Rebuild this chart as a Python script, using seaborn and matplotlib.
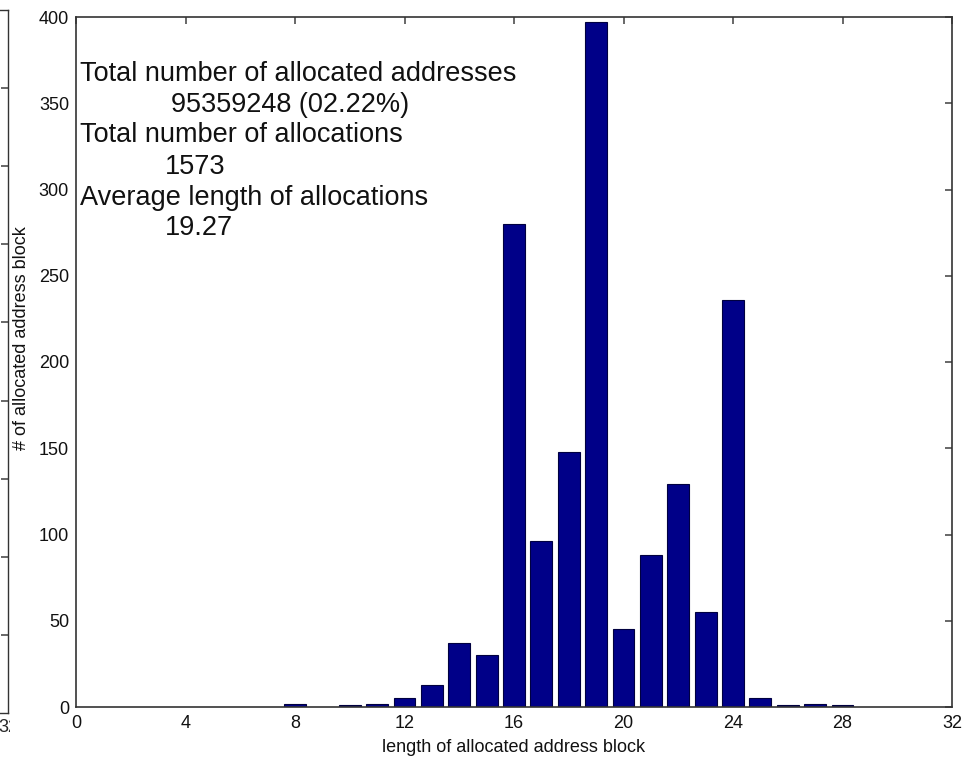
import numpy as np
import pandas as pd
import matplotlib
matplotlib.use("Agg")
import matplotlib.pyplot as plt
import seaborn as sns
from matplotlib.patches import Rectangle

# Allocation counts per prefix length
prefix_len = [8, 10, 11, 12, 13, 14, 15, 16, 17, 18, 19, 20, 21, 22, 23, 24, 25, 26, 27, 28]
block_counts = [2, 1, 2, 5, 13, 37, 30, 280, 96, 148, 397, 45, 88, 129, 55, 236, 5, 1, 2, 1]
x_ticks = list(range(0, 33, 4))
y_ticks = list(range(0, 401, 50))
total_addresses = "95359248 (02.22%)"

sns.set_theme(style="white")
plt.rcParams["font.family"] = ["Liberation Sans", "DejaVu Sans"]

W, H = 965, 759
fig = plt.figure(figsize=(W / 100, H / 100), dpi=100)
fig.patch.set_facecolor("white")


def px_rect(x0, y0, x1, y1):
    return [x0 / W, 1 - y1 / H, (x1 - x0) / W, (y1 - y0) / H]


# neighbouring panel, mostly outside the figure
ax0 = fig.add_axes(px_rect(-300, 10, 8, 713))
ax0.set_xlim(0, 32)
ax0.set_ylim(0, 9)
ax0.set_xticks([32])
ax0.set_xticklabels(["32"])
ax0.set_yticks(range(1, 9))
ax0.tick_params(axis="y", left=False, right=True, labelleft=False,
                direction="in", length=5, color="#555555")
ax0.tick_params(axis="x", direction="in", length=0, labelsize=13, pad=4)
for s in ax0.spines.values():
    s.set_color("#333333")
    s.set_linewidth(1.0)

# main histogram
ax = fig.add_axes(px_rect(76, 17, 952, 707))
df = pd.DataFrame({"len": prefix_len, "count": block_counts})
sns.barplot(data=df, x="len", y="count", native_scale=True, width=0.8,
            color="#000088", saturation=1, edgecolor="#000040", linewidth=0.8,
            ax=ax)
ax.set_xlim(0, 32)
ax.set_ylim(0, 400)
ax.set_xticks(x_ticks)
ax.set_xticklabels([str(t) for t in x_ticks])
ax.set_yticks(y_ticks)
ax.set_yticklabels([str(t) for t in y_ticks])
ax.tick_params(direction="in", length=5, top=True, right=True, labelsize=13,
               color="#555555", labelcolor="#111111", pad=5)
ax.tick_params(axis="x", pad=6)
for s in ax.spines.values():
    s.set_visible(True)
    s.set_color("#333333")
    s.set_linewidth(1.2)
ax.set_xlabel("")
ax.set_ylabel("")

fig.text(514 / W, 1 - 748 / H, "length of allocated address block",
         ha="center", va="center", fontsize=13, color="#111111")
fig.text(22 / W, 1 - 338 / H, "# of allocated address block",
         ha="center", va="center", rotation=90, fontsize=13, color="#111111")

n_alloc = int(np.sum(block_counts))
avg_len = float(np.dot(prefix_len, block_counts)) / n_alloc

txt = dict(fontsize=19.5, va="center", ha="left", color="#111111")
ax.text(0.15, 367, "Total number of allocated addresses", **txt)
ax.text(3.47, 349, total_addresses, **txt)
ax.text(0.15, 331.5, "Total number of allocations", **txt)
ax.text(3.25, 313, f"{n_alloc}", **txt)
ax.text(0.15, 295, "Average length of allocations", **txt)
ax.text(3.25, 277.5, f"{avg_len:.2f}", **txt)

# crop edge of the neighbouring panel's tick label
fig.patches.append(Rectangle((10 / W, 1 - 740 / H), 30 / W, 26 / H,
                             transform=fig.transFigure, facecolor="white",
                             edgecolor="none", zorder=10))

fig.savefig("out.png", dpi=100, facecolor="white")
